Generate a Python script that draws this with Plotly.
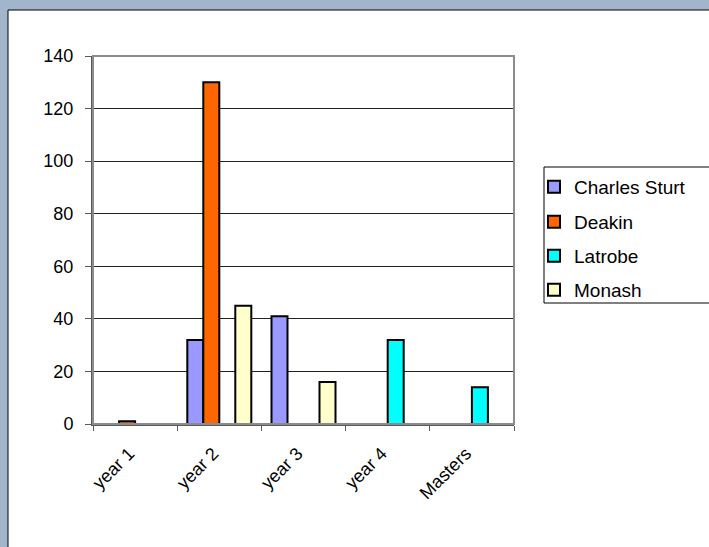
import plotly.graph_objects as go

categories = ["year 1", "year 2", "year 3", "year 4", "Masters"]
charles_sturt = [None, 32, 41, None, None]
deakin = [1, 130, None, None, None]
latrobe = [None, None, None, 32, 14]
monash = [None, 45, 16, None, None]

series = [
    ("Charles Sturt", charles_sturt, "#9999FF"),
    ("Deakin", deakin, "#FF6600"),
    ("Latrobe", latrobe, "#00FFFF"),
    ("Monash", monash, "#FFFFCC"),
]

BG = "#A2B6CB"

W, H = 709, 547
L, R, T, B = 93, 514, 56, 424
pw, ph = R - L, B - T

def px(x):
    return (x - L) / pw

def py(y):
    return (B - y) / ph

legend_ids = ["legend", "legend2", "legend3", "legend4"]
legend_centers = [187, 222, 256, 290]

fig = go.Figure()
for (name, vals, col), lid in zip(series, legend_ids):
    fig.add_trace(go.Bar(
        x=categories, y=vals, name=name, legend=lid,
        marker=dict(color=col, line=dict(color="black", width=2)),
    ))

legend_layout = {}
for lid, cy in zip(legend_ids, legend_centers):
    legend_layout[lid] = dict(
        x=px(534), y=py(cy), xanchor="left", yanchor="middle",
        font=dict(size=19, family="Arial, Liberation Sans", color="black"),
        bgcolor="rgba(0,0,0,0)", borderwidth=0,
    )

fig.update_layout(
    width=W, height=H,
    margin=dict(l=L, r=W - R, t=T, b=H - B, pad=0),
    paper_bgcolor=BG,
    plot_bgcolor="white",
    barmode="group",
    bargap=0.24,
    bargroupgap=0,
    font=dict(family="Arial, Liberation Sans", color="black"),
    showlegend=True,
    shapes=[
        dict(type="rect", xref="paper", yref="paper", layer="below",
             x0=px(8), x1=1.6, y0=-0.6, y1=py(10),
             fillcolor="white", line=dict(color="black", width=1)),
        dict(type="rect", xref="paper", yref="paper", layer="below",
             x0=px(544), x1=1.6, y0=py(303), y1=py(167),
             fillcolor="rgba(255,255,255,0)", line=dict(color="black", width=1)),
        dict(type="rect", xref="paper", yref="paper", layer="above",
             x0=0, x1=1, y0=0, y1=1,
             line=dict(color="#8C8C8C", width=2)),
    ],
    **legend_layout,
)

fig.update_yaxes(
    range=[0, 140], dtick=20, tick0=0,
    showgrid=True, gridcolor="#222222", gridwidth=1,
    zeroline=False,
    showline=True, linecolor="#5A5A5A", linewidth=2,
    ticks="outside", ticklen=6, tickcolor="#5A5A5A", tickwidth=1,
    tickfont=dict(size=18, color="black"),
    ticklabelstandoff=8,
)
fig.update_xaxes(
    showgrid=False, zeroline=False,
    showline=True, linecolor="#5A5A5A", linewidth=2,
    ticks="outside", ticklen=5, tickcolor="#5A5A5A", tickwidth=1,
    tickson="boundaries",
    tickangle=-45,
    tickfont=dict(size=18, color="black"),
    ticklabelstandoff=10,
    ticklabelshift=-6,
)

fig.write_html(
    "out.html",
    config={"displayModeBar": False},
    post_script=f"document.body.style.margin='0';document.body.style.background='{BG}';",
)
